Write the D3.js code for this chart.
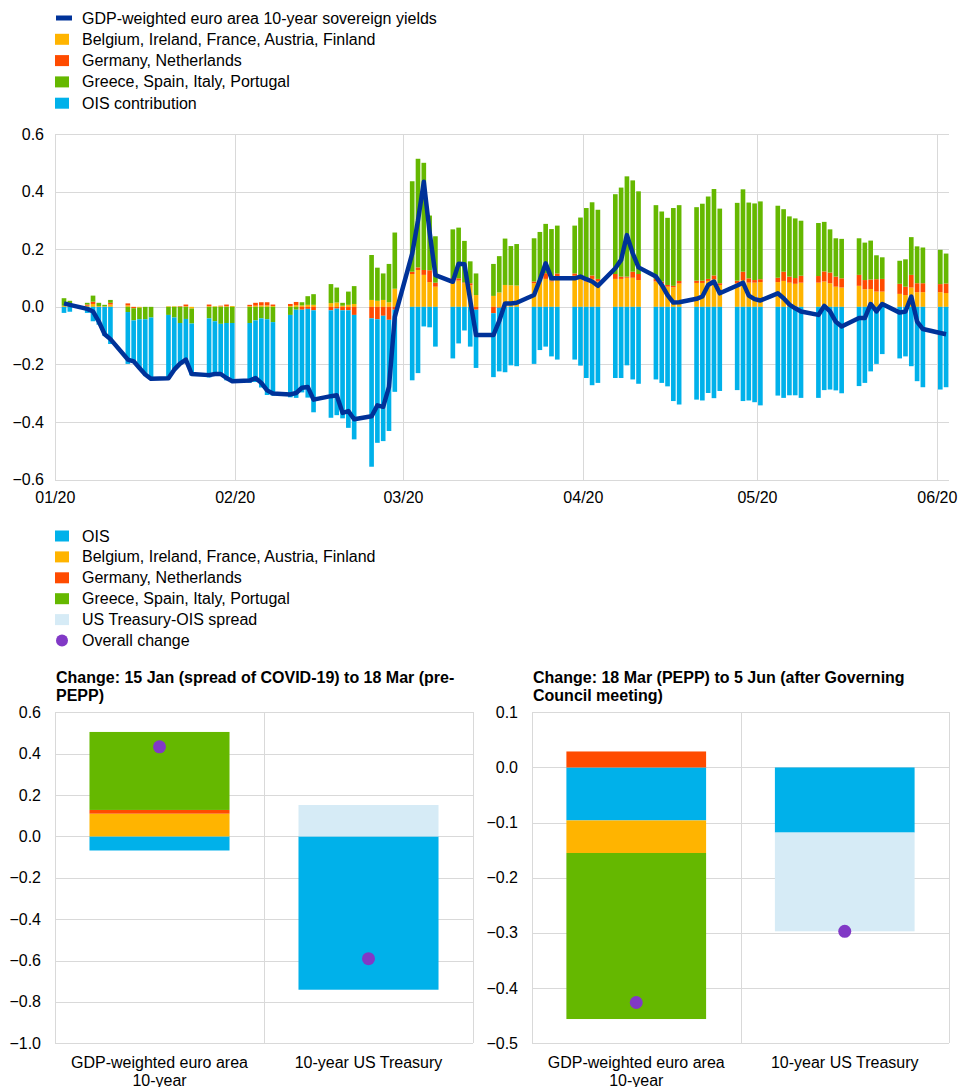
<!DOCTYPE html>
<html>
<head>
<meta charset="utf-8">
<script src="https://cdn.jsdelivr.net/npm/d3@7"></script>
<style>
  body { margin: 0; background: #fff; }
  text { font-family: Arial, "Liberation Sans", sans-serif; font-size: 16px; fill: #000; }
  .grid { stroke: #d9d9d9; stroke-width: 1; shape-rendering: crispEdges; }
</style>
</head>
<body>
<svg id="chart" width="961" height="1087"></svg>
<script>
// ---- top chart data: business days, cumulative change (pp) ----
const dates = [
  "2020-01-02","2020-01-03",
  "2020-01-06","2020-01-07","2020-01-08","2020-01-09","2020-01-10",
  "2020-01-13","2020-01-14","2020-01-15","2020-01-16","2020-01-17",
  "2020-01-20","2020-01-21","2020-01-22","2020-01-23","2020-01-24",
  "2020-01-27","2020-01-28","2020-01-29","2020-01-30","2020-01-31",
  "2020-02-03","2020-02-04","2020-02-05","2020-02-06","2020-02-07",
  "2020-02-10","2020-02-11","2020-02-12","2020-02-13","2020-02-14",
  "2020-02-17","2020-02-18","2020-02-19","2020-02-20","2020-02-21",
  "2020-02-24","2020-02-25","2020-02-26","2020-02-27","2020-02-28",
  "2020-03-02","2020-03-03","2020-03-04","2020-03-05","2020-03-06",
  "2020-03-09","2020-03-10","2020-03-11","2020-03-12","2020-03-13",
  "2020-03-16","2020-03-17","2020-03-18","2020-03-19","2020-03-20",
  "2020-03-23","2020-03-24","2020-03-25","2020-03-26","2020-03-27",
  "2020-03-30","2020-03-31","2020-04-01","2020-04-02","2020-04-03",
  "2020-04-06","2020-04-07","2020-04-08","2020-04-09","2020-04-10",
  "2020-04-13","2020-04-14","2020-04-15","2020-04-16","2020-04-17",
  "2020-04-20","2020-04-21","2020-04-22","2020-04-23","2020-04-24",
  "2020-04-27","2020-04-28","2020-04-29","2020-04-30","2020-05-01",
  "2020-05-04","2020-05-05","2020-05-06","2020-05-07","2020-05-08",
  "2020-05-11","2020-05-12","2020-05-13","2020-05-14","2020-05-15",
  "2020-05-18","2020-05-19","2020-05-20","2020-05-21","2020-05-22",
  "2020-05-25","2020-05-26","2020-05-27","2020-05-28","2020-05-29",
  "2020-06-01","2020-06-02"
];

// Belgium, Ireland, France, Austria, Finland
const bifaf = [
  0.004,0.003,
  0.004,0.010,0.003,0.002,0.008,
  0.005,0.000,-0.003,0.000,0.000,
  0.002,0.002,0.000,0.002,-0.006,
  0.002,0.002,0.002,0.002,0.003,
  0.002,0.004,0.005,0.005,0.003,
  0.003,0.006,0.005,0.007,0.007,
  0.013,0.015,0.004,0.007,0.010,
  0.024,0.021,0.024,0.016,0.063,
  0.114,0.128,0.111,0.086,0.070,
  0.095,0.091,0.082,0.075,0.041,
  0.038,0.050,0.076,0.075,0.074,
  0.082,0.088,0.097,0.088,0.107,
  0.108,0.099,0.088,0.097,0.088,
  0.097,0.097,0.101,0.101,0.093,
  0.088,0.081,0.070,0.068,0.081,
  0.083,0.083,0.090,0.096,0.076,
  0.082,0.093,0.084,0.084,0.086,
  0.086,0.090,0.084,0.080,0.084,
  0.084,0.088,0.082,0.070,0.067,
  0.073,0.061,0.062,0.053,0.053,
  0.045,0.041,0.067,0.051,0.051,
  0.051,0.048
];

// Germany, Netherlands
const denl = [
  0.000,0.000,
  0.004,0.008,0.000,0.000,0.006,
  0.007,-0.005,0.000,0.000,0.000,
  0.000,0.000,0.002,0.006,0.000,
  0.006,0.000,0.002,0.006,0.000,
  0.005,0.010,0.011,0.011,0.005,
  0.007,0.011,-0.010,-0.007,-0.012,
  -0.012,-0.006,-0.012,-0.012,-0.028,
  -0.040,-0.043,-0.031,-0.045,-0.010,
  0.008,0.009,0.017,0.041,0.014,
  0.005,0.008,0.003,0.007,-0.010,
  -0.022,-0.003,0.000,0.000,0.000,
  0.006,0.000,0.020,0.004,0.009,
  0.008,0.006,0.003,0.012,0.009,
  0.017,0.008,0.004,0.021,0.021,
  0.009,0.007,0.006,0.005,0.009,
  0.008,0.008,0.007,0.013,0.006,
  0.009,0.029,0.015,0.009,0.010,
  0.015,0.032,0.021,0.020,0.024,
  0.023,0.035,0.037,0.035,0.032,
  0.038,0.032,0.033,0.043,0.044,
  0.035,0.029,0.044,0.031,0.031,
  0.028,0.033
];

// Greece, Spain, Italy, Portugal
const gsip = [
  0.026,0.018,
  0.006,0.021,0.011,0.005,0.010,
  -0.018,-0.042,-0.040,-0.043,-0.037,
  -0.028,-0.037,-0.056,-0.042,-0.052,
  -0.040,-0.050,-0.059,-0.056,-0.056,
  -0.056,-0.047,-0.040,-0.043,-0.053,
  -0.028,-0.010,0.011,0.030,0.037,
  0.066,0.052,0.010,0.046,0.062,
  0.156,0.115,0.092,0.133,0.195,
  0.314,0.377,0.372,0.190,0.161,
  0.169,0.176,0.144,0.076,0.075,
  0.111,0.126,0.161,0.136,0.144,
  0.150,0.172,0.171,0.178,0.166,
  0.166,0.205,0.252,0.254,0.240,
  0.277,0.309,0.348,0.317,0.287,
  0.256,0.243,0.233,0.270,0.263,
  0.255,0.267,0.286,0.300,0.259,
  0.270,0.286,0.263,0.266,0.270,
  0.250,0.217,0.209,0.207,0.191,
  0.184,0.172,0.150,0.133,0.137,
  0.127,0.130,0.135,0.083,0.075,
  0.080,0.095,0.131,0.128,0.124,
  0.119,0.104
];

// OIS contribution
const ois = [
  -0.021,-0.017,
  -0.021,-0.050,-0.062,-0.100,-0.129,
  -0.180,-0.144,-0.170,-0.195,-0.213,
  -0.222,-0.183,-0.143,-0.149,-0.180,
  -0.205,-0.185,-0.178,-0.199,-0.205,
  -0.207,-0.214,-0.240,-0.263,-0.255,
  -0.286,-0.306,-0.287,-0.308,-0.354,
  -0.373,-0.370,-0.375,-0.408,-0.432,
  -0.515,-0.429,-0.435,-0.386,-0.285,
  -0.255,-0.230,-0.068,-0.071,-0.138,
  -0.179,-0.127,-0.082,-0.138,-0.202,
  -0.222,-0.221,-0.227,-0.203,-0.206,
  -0.198,-0.150,-0.138,-0.172,-0.183,
  -0.183,-0.204,-0.247,-0.272,-0.264,
  -0.247,-0.247,-0.203,-0.252,-0.267,
  -0.252,-0.264,-0.276,-0.327,-0.339,
  -0.322,-0.325,-0.299,-0.317,-0.292,
  -0.289,-0.327,-0.325,-0.331,-0.342,
  -0.308,-0.316,-0.307,-0.307,-0.316,
  -0.316,-0.289,-0.287,-0.290,-0.300,
  -0.275,-0.264,-0.224,-0.198,-0.164,
  -0.179,-0.172,-0.206,-0.258,-0.279,
  -0.287,-0.279
];

// GDP-weighted euro area 10-year sovereign yields
const yieldLine = [
  0.012,0.007,
  -0.007,-0.016,-0.051,-0.095,-0.112,
  -0.183,-0.189,-0.212,-0.235,-0.250,
  -0.248,-0.218,-0.197,-0.183,-0.233,
  -0.237,-0.233,-0.233,-0.247,-0.258,
  -0.256,-0.247,-0.264,-0.290,-0.301,
  -0.304,-0.299,-0.281,-0.278,-0.322,
  -0.310,-0.307,-0.368,-0.362,-0.390,
  -0.380,-0.342,-0.347,-0.278,-0.035,
  0.185,0.300,0.434,0.260,0.110,
  0.087,0.150,0.148,0.022,-0.098,
  -0.098,-0.049,0.012,0.012,0.014,
  0.041,0.093,0.151,0.099,0.099,
  0.099,0.105,0.096,0.088,0.073,
  0.134,0.163,0.249,0.186,0.137,
  0.105,0.076,0.041,0.015,0.016,
  0.028,0.036,0.076,0.088,0.047,
  0.074,0.084,0.039,0.027,0.022,
  0.047,0.030,0.008,-0.005,-0.016,
  -0.028,0.003,-0.016,-0.052,-0.068,
  -0.039,-0.039,0.010,-0.016,0.010,
  -0.020,-0.016,0.036,-0.051,-0.077,
  -0.091,-0.095
];

const yTicksTop = [-0.6, -0.4, -0.2, 0.0, 0.2, 0.4, 0.6];

// ---- bottom panels ----
const barCategories = ["GDP-weighted euro area 10-year", "10-year US Treasury"];
const barCategoryLines = [["GDP-weighted euro area", "10-year"], ["10-year US Treasury"]];
// 15 Jan to 18 Mar
const preOis = [-0.068, -0.741];
const preBifaf = [0.110, 0];
const preDenl = [0.018, 0];
const preGsip = [0.377, 0];
const preUsSpread = [0, 0.152];
const preTotal = [0.433, -0.591];
const preTicks = [-1.0, -0.8, -0.6, -0.4, -0.2, 0.0, 0.2, 0.4, 0.6];
// 18 Mar to 5 Jun
const postOis = [-0.096, -0.118];
const postBifaf = [-0.059, 0];
const postDenl = [0.029, 0];
const postGsip = [-0.301, 0];
const postUsSpread = [0, -0.179];
const postTotal = [-0.426, -0.297];
const postTicks = [-0.5, -0.4, -0.3, -0.2, -0.1, 0.0, 0.1];

const colors = {
    line: "#003299",
    bifaf: "#FFB400",
    denl: "#FF4B00",
    gsip: "#65B800",
    ois: "#00B1EA",
    us: "#D6EBF6",
    total: "#8139C6"
};

const svg = d3.select("#chart");

//LEGEND (TOP)////////////////////////////////////////////////////////
const topLegend = [
    {label: "GDP-weighted euro area 10-year sovereign yields", color: colors.line, type: "line"},
    {label: "Belgium, Ireland, France, Austria, Finland", color: colors.bifaf},
    {label: "Germany, Netherlands", color: colors.denl},
    {label: "Greece, Spain, Italy, Portugal", color: colors.gsip},
    {label: "OIS contribution", color: colors.ois}
];
let lg = svg.append("g");
topLegend.forEach((d, i) => {
    let cy = 18 + i * 21.3;
    if (d.type === "line") {
        lg.append("rect").attr("x", 56).attr("y", cy - 2.5).attr("width", 16).attr("height", 5).attr("fill", d.color);
    } else {
        lg.append("rect").attr("x", 55).attr("y", cy - 5.5).attr("width", 14).attr("height", 11).attr("fill", d.color);
    }
    lg.append("text").attr("x", 82).attr("y", cy + 5.5).text(d.label);
});

//TOP CHART///////////////////////////////////////////////////////////
const parse = d3.timeParse("%Y-%m-%d");
const rows = dates.map((d, i) => ({
    date: parse(d), bifaf: bifaf[i], denl: denl[i], gsip: gsip[i], ois: ois[i], line: yieldLine[i]
}));

const x = d3.scaleTime()
    .domain([new Date(2020, 0, 1), new Date(2020, 5, 3)])
    .range([55.3, 949]);
const y = d3.scaleLinear().domain([-0.6, 0.6]).range([479.7, 134]);
const mid = d => d3.timeHour.offset(d, 12);
const bw = (x(new Date(2020, 0, 2)) - x(new Date(2020, 0, 1))) * 0.8;

let topG = svg.append("g");
topG.selectAll(".hgrid").data(yTicksTop).join("line")
    .attr("class", "grid")
    .attr("x1", 55.3).attr("x2", 949)
    .attr("y1", d => Math.round(y(d)) + 0.5).attr("y2", d => Math.round(y(d)) + 0.5);
const months = x.ticks(d3.timeMonth.every(1));
topG.selectAll(".vgrid").data(months).join("line")
    .attr("class", "grid")
    .attr("y1", y(0.6)).attr("y2", y(-0.6))
    .attr("x1", d => Math.round(x(d)) + 0.5).attr("x2", d => Math.round(x(d)) + 0.5);

topG.selectAll(".ylab").data(yTicksTop).join("text")
    .attr("x", 44).attr("y", d => y(d) + 5.5)
    .attr("text-anchor", "end")
    .text(d3.format(".1f"));
topG.selectAll(".xlab").data(months).join("text")
    .attr("x", d => x(d)).attr("y", 503)
    .attr("text-anchor", "middle")
    .text(d3.timeFormat("%m/%y"));

const keysTop = ["bifaf", "denl", "gsip", "ois"];
const stacked = d3.stack().keys(keysTop).offset(d3.stackOffsetDiverging)(rows);
topG.selectAll(".series").data(stacked).join("g")
    .attr("fill", s => colors[s.key])
    .selectAll("rect").data(s => s).join("rect")
    .attr("x", d => x(mid(d.data.date)) - bw / 2)
    .attr("width", bw)
    .attr("y", d => y(Math.max(d[0], d[1])))
    .attr("height", d => Math.abs(y(d[0]) - y(d[1])));

topG.append("path")
    .datum(rows)
    .attr("fill", "none")
    .attr("stroke", colors.line)
    .attr("stroke-width", 4.5)
    .attr("stroke-linejoin", "round")
    .attr("d", d3.line().x(d => x(mid(d.date))).y(d => y(d.line)));

//LEGEND (BOTTOM)/////////////////////////////////////////////////////
const bottomLegend = [
    {label: "OIS", color: colors.ois},
    {label: "Belgium, Ireland, France, Austria, Finland", color: colors.bifaf},
    {label: "Germany, Netherlands", color: colors.denl},
    {label: "Greece, Spain, Italy, Portugal", color: colors.gsip},
    {label: "US Treasury-OIS spread", color: colors.us},
    {label: "Overall change", color: colors.total, type: "dot"}
];
let lg2 = svg.append("g");
bottomLegend.forEach((d, i) => {
    let cy = 536 + i * 20.9;
    if (d.type === "dot") {
        lg2.append("circle").attr("cx", 62).attr("cy", cy).attr("r", 6).attr("fill", d.color);
    } else {
        lg2.append("rect").attr("x", 55).attr("y", cy - 5.5).attr("width", 14).attr("height", 11).attr("fill", d.color);
    }
    lg2.append("text").attr("x", 82).attr("y", cy + 5.5).text(d.label);
});

//BOTTOM PANELS///////////////////////////////////////////////////////
function drawPanel(cfg) {
    let g = svg.append("g");
    let yy = d3.scaleLinear().domain(cfg.domain).range([1043.3, 712.3]);
    let xx = d3.scaleBand().domain(barCategories).range([cfg.left, cfg.right]);
    let data = barCategories.map((c, i) => ({
        cat: c, ois: cfg.ois[i], bifaf: cfg.bifaf[i], denl: cfg.denl[i], gsip: cfg.gsip[i], us: cfg.us[i], total: cfg.total[i]
    }));

    g.selectAll(".hgrid").data(cfg.ticks).join("line")
        .attr("class", "grid")
        .attr("x1", cfg.left).attr("x2", cfg.right)
        .attr("y1", d => Math.round(yy(d)) + 0.5).attr("y2", d => Math.round(yy(d)) + 0.5);
    [cfg.left, xx(barCategories[1]), cfg.right].forEach(v => {
        g.append("line").attr("class", "grid")
            .attr("x1", Math.round(v) + 0.5).attr("x2", Math.round(v) + 0.5)
            .attr("y1", 712.3).attr("y2", 1043.3);
    });

    g.selectAll(".ylab").data(cfg.ticks).join("text")
        .attr("x", cfg.left - 14).attr("y", d => yy(d) + 5.5)
        .attr("text-anchor", "end")
        .text(d3.format(".1f"));

    let stack = d3.stack().keys(["ois", "bifaf", "denl", "gsip", "us"]).offset(d3.stackOffsetDiverging)(data);
    let barW = xx.bandwidth() * 0.67;
    g.selectAll(".series").data(stack).join("g")
        .attr("fill", s => colors[s.key])
        .selectAll("rect").data(s => s).join("rect")
        .attr("x", d => xx(d.data.cat) + (xx.bandwidth() - barW) / 2)
        .attr("width", barW)
        .attr("y", d => yy(Math.max(d[0], d[1])))
        .attr("height", d => Math.abs(yy(d[0]) - yy(d[1])));

    g.selectAll(".dot").data(data).join("circle")
        .attr("cx", d => xx(d.cat) + xx.bandwidth() / 2)
        .attr("cy", d => yy(d.total))
        .attr("r", 6.5)
        .attr("fill", colors.total);

    barCategories.forEach((c, i) => {
        barCategoryLines[i].forEach((t, j) => {
            g.append("text")
                .attr("x", xx(c) + xx.bandwidth() / 2)
                .attr("y", 1068 + j * 18)
                .attr("text-anchor", "middle")
                .text(t);
        });
    });

    cfg.title.forEach((t, j) => {
        g.append("text")
            .attr("x", cfg.left + 1).attr("y", 683 + j * 18)
            .style("font-weight", "bold")
            .text(t);
    });
}

drawPanel({
    left: 55, right: 473, domain: [-1.0, 0.6], ticks: preTicks,
    ois: preOis, bifaf: preBifaf, denl: preDenl, gsip: preGsip, us: preUsSpread, total: preTotal,
    title: ["Change: 15 Jan (spread of COVID-19) to 18 Mar (pre-", "PEPP)"]
});
drawPanel({
    left: 532, right: 949, domain: [-0.5, 0.1], ticks: postTicks,
    ois: postOis, bifaf: postBifaf, denl: postDenl, gsip: postGsip, us: postUsSpread, total: postTotal,
    title: ["Change: 18 Mar (PEPP) to 5 Jun (after Governing", "Council meeting)"]
});
</script>
</body>
</html>
